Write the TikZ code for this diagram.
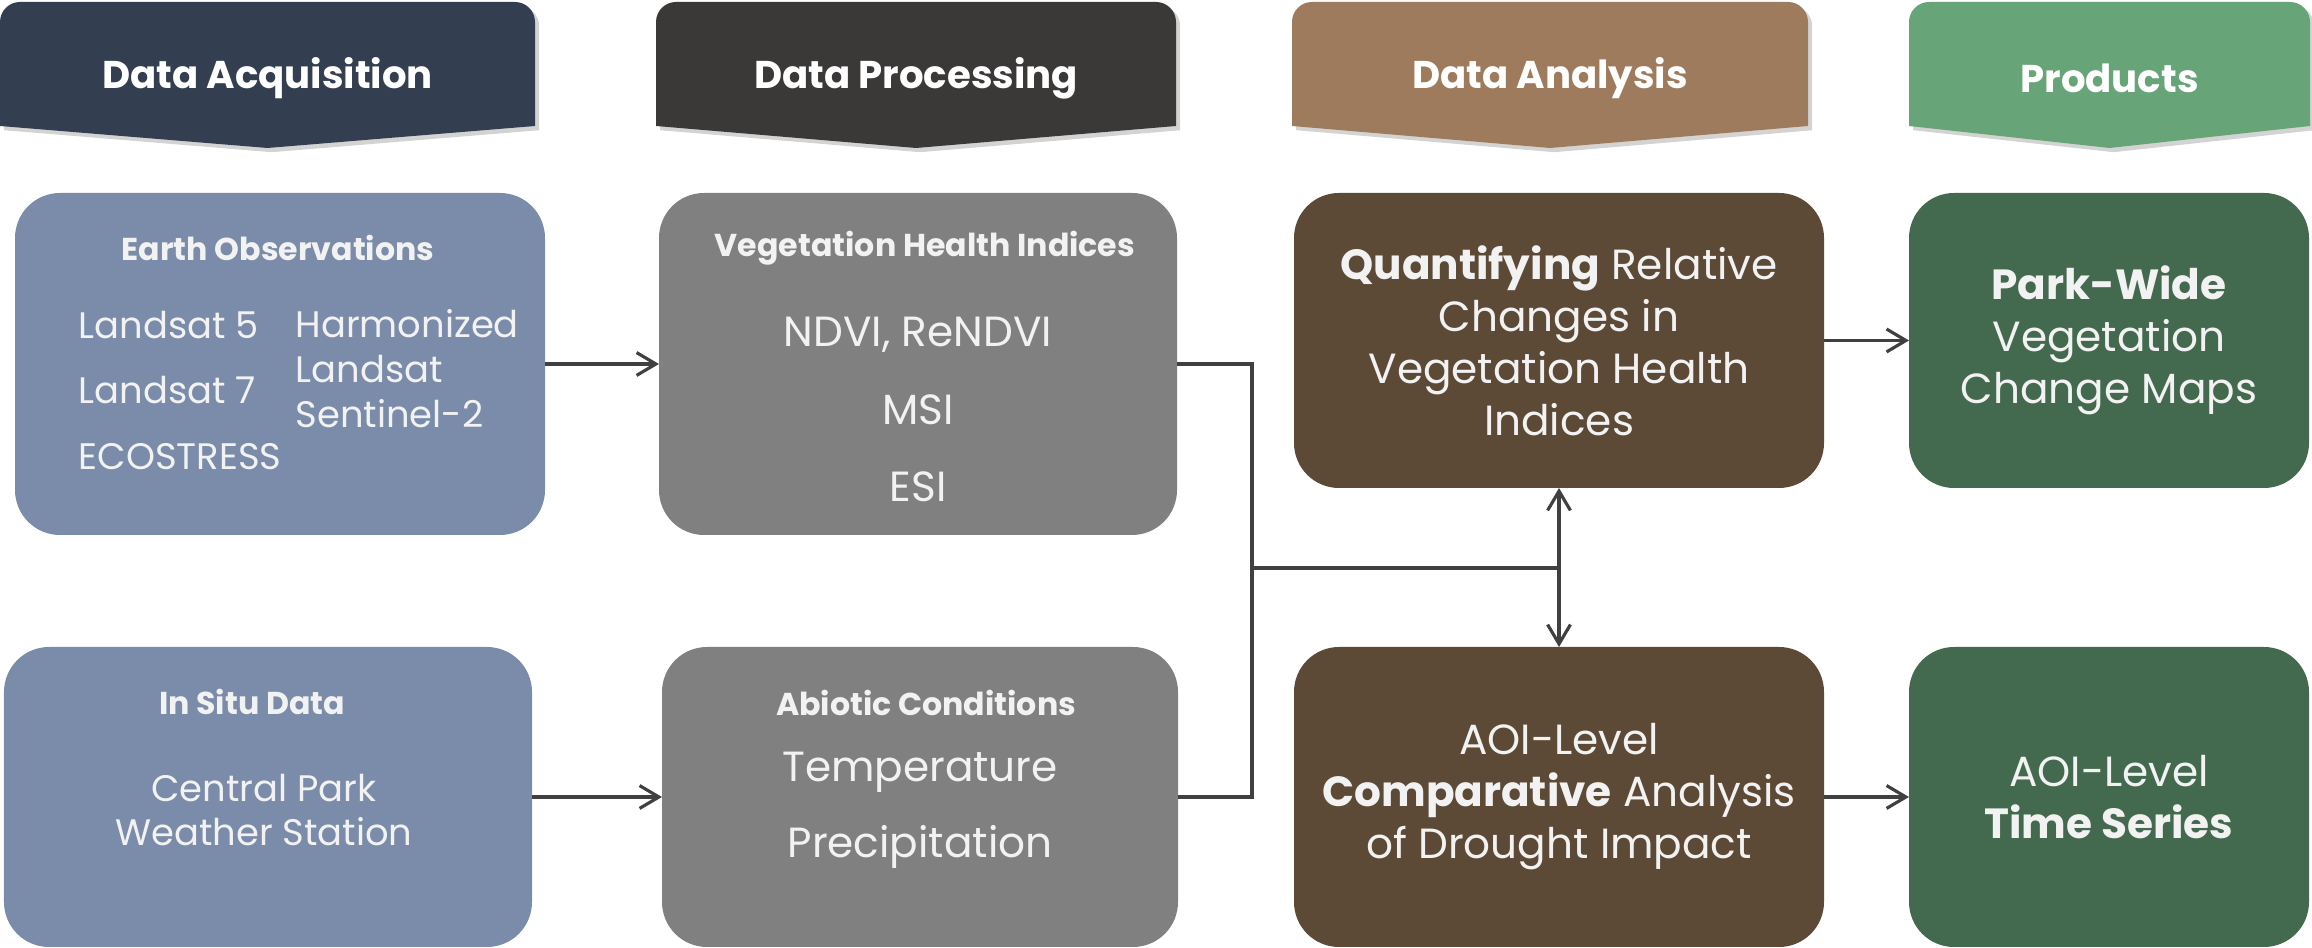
\documentclass[tikz,border=0pt]{standalone}
\usepackage{fontspec}
\setmainfont{Poppins}
\usetikzlibrary{arrows.meta,shadows,calc}

\definecolor{hdacq}{HTML}{333F50}
\definecolor{hdproc}{HTML}{3B3838}
\definecolor{hdana}{HTML}{9E7B5C}
\definecolor{hdprod}{HTML}{67A477}
\definecolor{bxacq}{HTML}{7A8CA9}
\definecolor{bxproc}{HTML}{808080}
\definecolor{bxana}{HTML}{5C4A36}
\definecolor{bxprod}{HTML}{436A4F}
\definecolor{boxtext}{HTML}{F2F2F2}
\definecolor{lnk}{HTML}{404040}

\newcommand\itemfnt{\fontsize{12}{14.8}\selectfont}
\newcommand\smallitemfnt{\fontsize{10.5}{12.8}\selectfont}
\newcommand\subhdfnt{\fontsize{9}{11}\selectfont\bfseries}

\tikzset{
  box/.style={rounded corners=0.45cm, inner sep=0pt, outer sep=0pt, text=boxtext, align=center, font=\itemfnt},
  hdtext/.style={text=white, font=\fontsize{11}{13}\selectfont\bfseries},
  subhd/.style={text=boxtext, font=\subhdfnt, inner sep=0pt},
  item/.style={text=boxtext, font=\itemfnt, inner sep=0pt, align=center},
  conn/.style={draw=lnk, line width=0.9pt}
}

\begin{document}
\begin{tikzpicture}[>={Straight Barb[length=5.5pt,width=6.5pt]}]
\useasboundingbox (0,0) rectangle (23.12,-9.48);
% stage headers
\foreach \xl/\xr/\col/\txt [count=\i] in {0/5.35/hdacq/Data Acquisition, 6.56/11.76/hdproc/Data Processing, 12.92/18.08/hdana/Data Analysis, 19.09/23.10/hdprod/Products}{
  \fill[\col, drop shadow={shadow xshift=1.2pt, shadow yshift=-1.2pt, opacity=0.35}] (\xl,-1.26) -- (\xl,-0.22) arc[start angle=180,end angle=90,radius=0.2] -- ({\xr-0.2},-0.02) arc[start angle=90,end angle=0,radius=0.2] -- (\xr,-1.26) -- ({(\xl+\xr)/2},-1.48) -- cycle;
  \node[hdtext] (h\i) at ({(\xl+\xr)/2},-0.78) {\txt};
}

% boxes
\node[box, fill=bxacq, minimum width=5.30cm, minimum height=3.42cm] (eo) at (2.80,-3.64) {};
\node[box, fill=bxproc, minimum width=5.18cm, minimum height=3.42cm] (vhi) at (9.18,-3.64) {};
\node[box, fill=bxana, minimum width=5.30cm, minimum height=2.95cm] (quant) at (15.59,-3.405) {\textbf{Quantifying} Relative\\Changes in\\Vegetation Health\\Indices};
\node[box, fill=bxprod, minimum width=4.00cm, minimum height=2.95cm] (pw) at (21.09,-3.405) {\textbf{Park-Wide}\\Vegetation\\Change Maps};
\node[box, fill=bxacq, minimum width=5.28cm, minimum height=3.00cm] (insitu) at (2.68,-7.97) {};
\node[box, fill=bxproc, minimum width=5.16cm, minimum height=3.00cm] (abio) at (9.20,-7.97) {};
\node[box, fill=bxana, minimum width=5.30cm, minimum height=3.00cm] (aoi) at (15.59,-7.97) {AOI-Level\\\textbf{Comparative} Analysis\\of Drought Impact};
\node[box, fill=bxprod, minimum width=4.00cm, minimum height=3.00cm] (ts) at (21.09,-7.97) {AOI-Level\\\textbf{Time Series}};

% earth observations
\node[subhd] (eotitle) at (2.78,-2.48) {Earth Observations};
\node[item, anchor=west, font=\smallitemfnt] (ls5) at (0.78,-3.25) {Landsat 5};
\node[item, anchor=west, font=\smallitemfnt] (ls7) at (0.78,-3.90) {Landsat 7};
\node[item, anchor=west, font=\smallitemfnt] (eco) at (0.78,-4.57) {ECOSTRESS};
\node[item, anchor=west, align=left, font=\smallitemfnt] (hls) at (2.95,-3.69) {Harmonized\\Landsat\\Sentinel-2};

% vegetation health indices
\node[subhd] (vhititle) at (9.25,-2.48) {Vegetation Health Indices};
\node[item] (ndvi) at (9.18,-3.35) {NDVI, ReNDVI};
\node[item] (msi) at (9.18,-4.10) {MSI};
\node[item] (esi) at (9.18,-4.87) {ESI};

% in situ
\node[subhd] (istitle) at (2.52,-7.02) {In Situ Data};
\node[item, font=\fontsize{10.5}{12.5}\selectfont] (cp) at (2.64,-8.10) {Central Park\\Weather Station};

% abiotic
\node[subhd] (abtitle) at (9.26,-7.03) {Abiotic Conditions};
\node[item] (temp) at (9.20,-7.72) {Temperature};
\node[item] (prec) at (9.20,-8.47) {Precipitation};

% connectors
\draw[conn, ->] (eo.east) -- (vhi.west);
\draw[conn, ->] (insitu.east) -- (abio.west);
\draw[conn, ->] (quant.east) -- (pw.west);
\draw[conn, ->] (aoi.east) -- (ts.west);
\coordinate (join) at (12.52,-5.68);
\draw[conn] (vhi.east) -| (join) |- (abio.east);
\draw[conn] (join) -- (join -| aoi.north);
\draw[conn, <->] (quant.south) -- (aoi.north);
\end{tikzpicture}
\end{document}
